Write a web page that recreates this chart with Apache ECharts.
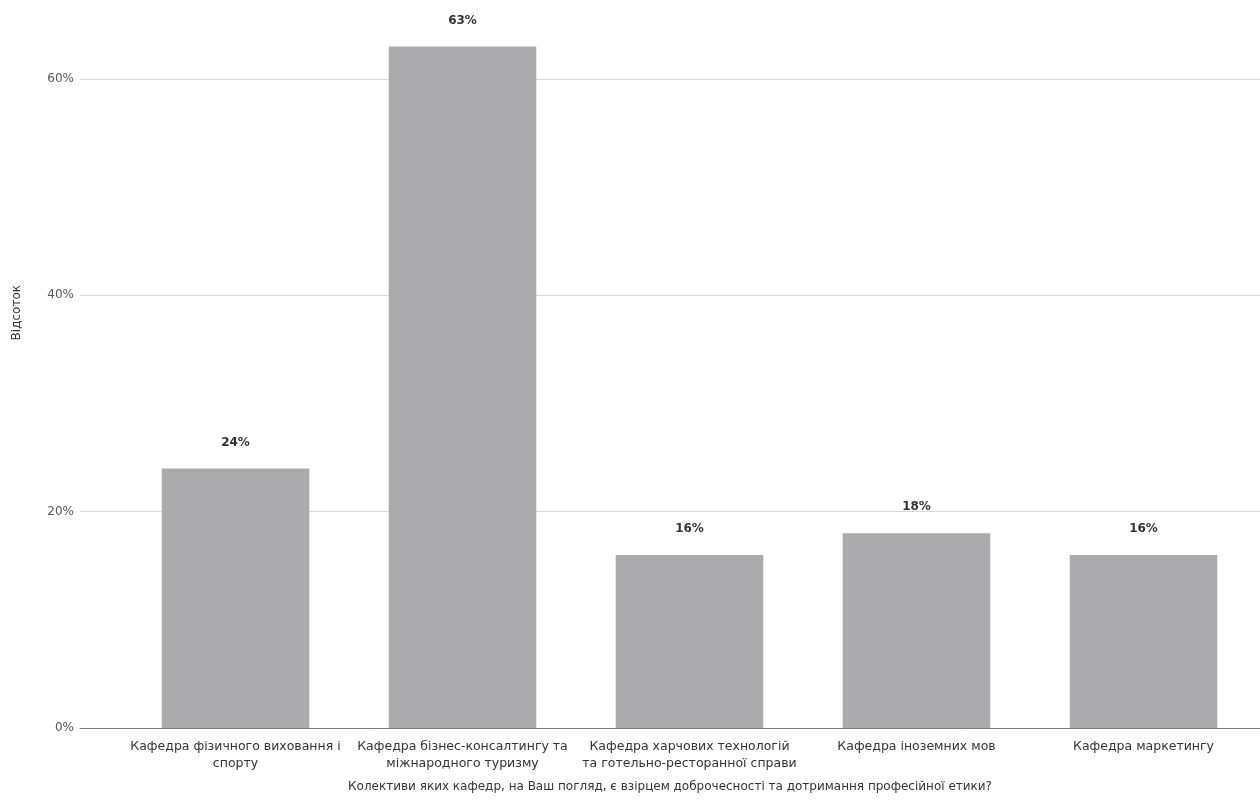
<!DOCTYPE html>
<html>
<head>
<meta charset="utf-8">
<script src="https://cdn.jsdelivr.net/npm/echarts@6/dist/echarts.min.js"></script>
<style>
html,body{margin:0;padding:0;background:#fff;}
#chart{width:1260px;height:809px;}
</style>
</head>
<body>
<div id="chart"></div>
<script>
const categories = [
  'Кафедра фізичного виховання і\nспорту',
  'Кафедра бізнес-консалтингу та\nміжнародного туризму',
  'Кафедра харчових технологій\nта готельно-ресторанної справи',
  'Кафедра іноземних мов',
  'Кафедра маркетингу'
];
const values = [24, 63, 16, 18, 16];
const yAxisTitle = 'Відсоток';
const xAxisTitle = 'Колективи яких кафедр, на Ваш погляд, є взірцем доброчесності та дотримання професійної етики?';

const chart = echarts.init(document.getElementById('chart'));
const FONT = '"DejaVu Sans", Verdana, sans-serif';
chart.setOption({
  backgroundColor: '#ffffff',
  textStyle: { fontFamily: FONT },
  grid: [
    { left: 80, right: 0, top: 79, bottom: 81 },
    { left: 122, right: 3, top: 79, bottom: 81 }
  ],
  xAxis: [
    {
      gridIndex: 0, type: 'category', data: [''],
      axisLabel: { show: false }, axisTick: { show: false },
      axisLine: { show: true, lineStyle: { color: '#7a7a7a', width: 1 } },
      name: xAxisTitle, nameLocation: 'middle', nameGap: 53,
      nameTextStyle: { fontSize: 12, color: '#333', fontFamily: FONT }
    },
    {
      gridIndex: 1, type: 'category', data: categories,
      axisLine: { show: false }, axisTick: { show: false },
      axisLabel: { margin: 10, fontSize: 12.5, lineHeight: 17, color: '#333', fontFamily: FONT, interval: 0 }
    }
  ],
  yAxis: [
    {
      gridIndex: 0, type: 'value', min: 0, max: 60, interval: 20,
      axisLine: { show: false }, axisTick: { show: false },
      axisLabel: { formatter: '{value}%', fontSize: 12, color: '#555', margin: 6, fontFamily: FONT },
      splitLine: { lineStyle: { color: '#d9d9d9', width: 1 } }
    },
    {
      gridIndex: 1, type: 'value', min: 0, max: 60, show: false
    }
  ],
  graphic: [
    {
      type: 'text', left: 11, top: 285, rotation: Math.PI / 2,
      style: { text: yAxisTitle, fontSize: 12, fill: '#333', fontFamily: FONT }
    }
  ],
  series: [
    {
      type: 'bar', xAxisIndex: 1, yAxisIndex: 1,
      data: values, barWidth: '65%', clip: false,
      itemStyle: { color: '#ababae' },
      label: {
        show: true, position: 'top', distance: 20,
        formatter: '{c}%', fontSize: 12, fontWeight: 'bold', color: '#333', fontFamily: FONT
      }
    }
  ]
});
</script>
</body>
</html>
